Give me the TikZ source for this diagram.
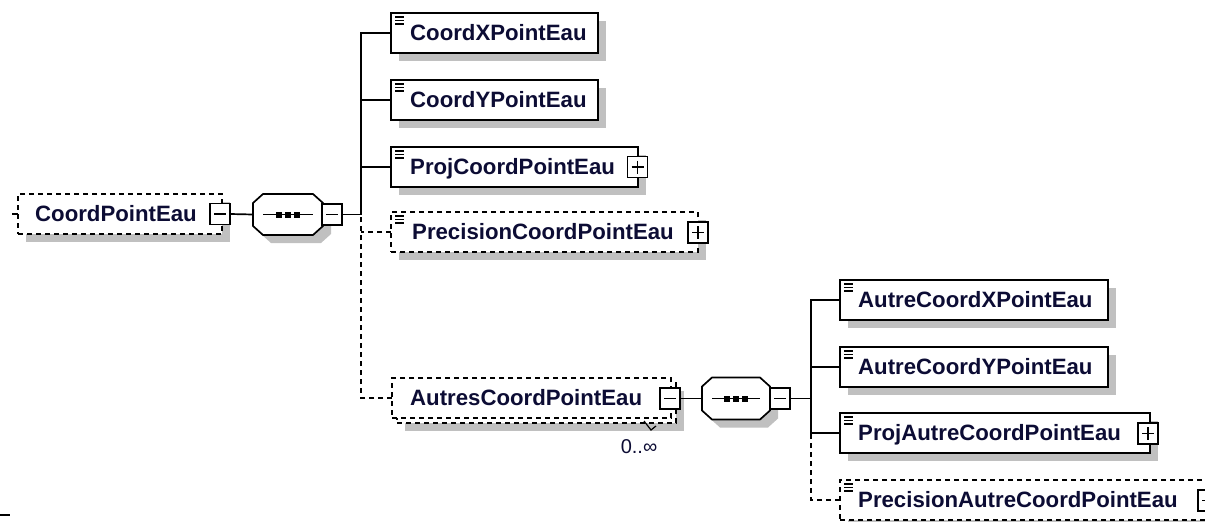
\documentclass[tikz,border=0pt]{standalone}
\usepackage{fontspec}
\setmainfont{Liberation Sans}
\usetikzlibrary{shadows}
\definecolor{txt}{RGB}{12,12,52}
\definecolor{shd}{RGB}{192,192,192}
\newcommand\pmMinus[1]{\draw[line width=1.6pt] ([xshift=4pt]#1.west) -- ([xshift=-4pt]#1.east);}
\newcommand\pmPlus[1]{\draw[line width=1.6pt] ([xshift=4pt]#1.west) -- ([xshift=-4pt]#1.east);
  \draw[line width=1.6pt] ([yshift=-4pt]#1.north) -- ([yshift=4pt]#1.south);}
\newcommand\elemIcon[1]{\foreach \dy in {-4pt,-7.5pt,-11pt}{\draw[line width=1.8pt] ([shift={(4pt,\dy)}]#1.north west) -- ++(9pt,0pt);}}
\newcommand\seqOct[1]{%
  \draw[line width=1.7pt, fill=white, general shadow={fill=shd, shadow xshift=8pt, shadow yshift=-8pt}]
   ([xshift=10pt]#1.north west) -- ([xshift=-10pt]#1.north east) -- ([yshift=-9pt]#1.north east)
   -- ([yshift=9pt]#1.south east) -- ([xshift=-10pt]#1.south east) -- ([xshift=10pt]#1.south west)
   -- ([yshift=9pt]#1.south west) -- ([yshift=-9pt]#1.north west) -- cycle;
  \draw[line width=1.7pt] ([xshift=10pt]#1.west) -- ([xshift=-10pt]#1.east);
  \foreach \dx in {-9pt,0pt,9pt}{\fill ([xshift=\dx]#1.center) +(-3pt,-3pt) rectangle +(3pt,3pt);}}
\begin{document}
\begin{tikzpicture}[x=1pt,y=-1pt,
  shad/.style={general shadow={fill=shd, shadow xshift=8pt, shadow yshift=-8pt}},
  elem/.style={draw=black, line width=1.7pt, fill=white, shad, minimum height=40pt, inner sep=0pt, outer sep=0pt},
  optelem/.style={elem, dash pattern=on 5pt off 4pt},
  optback/.style={draw=black, line width=1.7pt, fill=white, minimum height=40pt, inner sep=0pt, outer sep=0pt, dash pattern=on 5pt off 4pt},
  lbl/.style={anchor=west, font=\fontsize{22.2}{26}\selectfont\bfseries, text=txt, inner sep=0pt, text height=15.8pt, text depth=0pt},
  pm/.style={draw=black, line width=1.6pt, fill=white, minimum width=20pt, minimum height=21pt, inner sep=0pt, outer sep=0pt},
  seqnode/.style={minimum width=70pt, minimum height=41pt, inner sep=0pt, outer sep=0pt},
  conn/.style={line width=1.7pt},
  dconn/.style={conn, dash pattern=on 5pt off 4pt},
]
\useasboundingbox (0,0) rectangle (1205,522);
\clip (0,0) rectangle (1205,522);
\fill[white] (0,0) rectangle (1205,522);

% ---- root element
\node[optelem, minimum width=204pt] (cpe) at (120,214) {};
\node[lbl] (cpel) at ([xshift=17pt]cpe.west) {CoordPointEau};
\node[pm] (cpem) at (220,214) {}; \pmMinus{cpem}

% ---- sequence 1
\node[seqnode] (seq1) at (288,214.5) {};
\seqOct{seq1}
\node[pm] (sm1) at (332,214.5) {}; \pmMinus{sm1}
\coordinate (j1) at (361,214.5);

% ---- children
\node[elem, minimum width=207pt] (cx) at (494.5,33) {};
\elemIcon{cx}
\node[lbl] at ([xshift=19pt]cx.west) {CoordXPointEau};

\node[elem, minimum width=207pt] (cy) at (494.5,100) {};
\elemIcon{cy}
\node[lbl] at ([xshift=19pt]cy.west) {CoordYPointEau};

\node[elem, minimum width=247pt] (pj) at (514.5,167) {};
\elemIcon{pj}
\node[lbl] at ([xshift=19pt]pj.west) {ProjCoordPointEau};
\node[pm] (pjp) at (637.5,167) {}; \pmPlus{pjp}

\node[optelem, minimum width=307pt] (pc) at (544.5,232) {};
\elemIcon{pc}
\node[lbl] at ([xshift=21pt]pc.west) {PrecisionCoordPointEau};
\node[pm] (pcp) at (698,232.5) {}; \pmPlus{pcp}

% ---- repeated element
\node[optelem, minimum width=279pt] (acb) at (536.5,403) {};
\node[optback, minimum width=279pt] (ac) at (531.5,398) {};
\node[lbl] at ([xshift=18pt]ac.west) {AutresCoordPointEau};
\node[pm] (am) at (670,398.5) {}; \pmMinus{am}
\node[font=\fontsize{20}{24}\selectfont, text=txt, inner sep=0pt] (occ) at (639,447) {0..∞};
\draw[line width=1.2pt] (644,421) -- (651,430) -- (656,426);

% ---- sequence 2
\node[seqnode, minimum width=68pt, minimum height=42pt] (seq2) at (736,398.5) {};
\seqOct{seq2}
\node[pm] (sm2) at (780,398.5) {}; \pmMinus{sm2}
\coordinate (j2) at (811,398.5);

\node[elem, minimum width=268pt] (acx) at (974,300) {};
\elemIcon{acx}
\node[lbl] at ([xshift=18pt]acx.west) {AutreCoordXPointEau};

\node[elem, minimum width=268pt] (acy) at (974,367) {};
\elemIcon{acy}
\node[lbl] at ([xshift=18pt]acy.west) {AutreCoordYPointEau};

\node[elem, minimum width=310pt] (pac) at (995,433) {};
\elemIcon{pac}
\node[lbl] at ([xshift=18pt]pac.west) {ProjAutreCoordPointEau};
\node[pm] (pacp) at (1148,433.5) {}; \pmPlus{pacp}

\node[optelem, minimum width=368pt] (pap) at (1024,500) {};
\elemIcon{pap}
\node[lbl] at ([xshift=18pt]pap.west) {PrecisionAutreCoordPointEau};
\node[pm] (papp) at (1208,500.5) {}; \pmPlus{papp}

% ---- connectors
\draw[conn] (cpe.west) -- ++(-6pt,0pt);
\draw[conn] (cpem.east) -- (seq1.west);
\draw[conn] (sm1.east) -- (j1);
\draw[conn] (cx.west) -| (j1);
\draw[conn] (cy.west) -| (j1);
\draw[conn] (pj.west) -| (j1);
\draw[dconn] (pc.west) -- (pc.west -| j1);
\draw[dconn] (ac.west) -| (j1);

\draw[conn] (am.east) -- (seq2.west);
\draw[conn] (sm2.east) -- (j2);
\draw[conn] (acx.west) -| (j2);
\draw[conn] (acy.west) -| (j2);
\draw[conn] (pac.west) -| (j2);
\draw[dconn] (pap.west) -| (pac.west -| j2);

% stray mark at lower left
\draw[line width=2pt] (0,515) -- (10,515);
\end{tikzpicture}
\end{document}
